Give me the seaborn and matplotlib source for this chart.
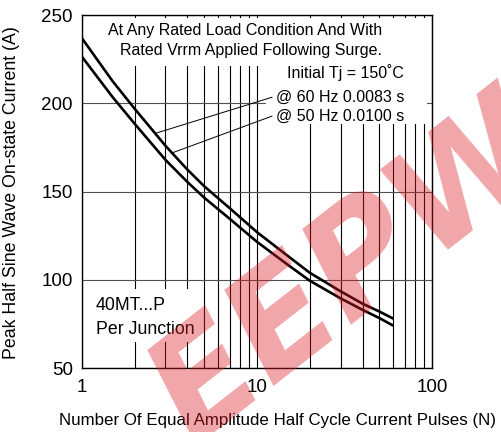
import matplotlib
matplotlib.use('Agg')
import matplotlib.pyplot as plt
from matplotlib.patches import Rectangle
from matplotlib.ticker import FixedLocator, FixedFormatter, NullFormatter
import seaborn as sns

# values
pulses = [1, 1.5, 2, 3, 4, 5, 7, 10, 15, 20, 30, 40, 50, 60]
current_60hz = [237, 212.5, 197, 176, 162.5, 153, 140.5, 127, 113.5, 104, 93.5, 86.5, 82, 78]
current_50hz = [226.5, 203.5, 188.5, 168, 155.5, 146.5, 134.5, 121.5, 108.5, 99.5, 89.5, 83, 78.3, 74]

y_ticks = [50, 100, 150, 200, 250]
x_ticks = [1, 10, 100]
x_tick_labels = ['1', '10', '100']
x_minor = [2, 3, 4, 5, 6, 7, 8, 9, 20, 30, 40, 50, 60, 70, 80, 90]

sns.set_style('white')
plt.rcParams['font.family'] = ['Liberation Sans', 'DejaVu Sans']

fig = plt.figure(figsize=(5.02, 4.32), dpi=100, facecolor='white')
ax = fig.add_axes([0.163, 0.148, 0.698, 0.817])

# curves
for vals in (current_60hz, current_50hz):
    sns.lineplot(x=pulses, y=vals, ax=ax, color='black', linewidth=1.9, zorder=4,
                 solid_joinstyle='round', solid_capstyle='butt')

ax.set_xscale('log')
ax.set_xlim(1, 100)
ax.set_ylim(50, 250)
ax.xaxis.set_major_locator(FixedLocator(x_ticks))
ax.xaxis.set_major_formatter(FixedFormatter(x_tick_labels))
ax.xaxis.set_minor_locator(FixedLocator(x_minor))
ax.xaxis.set_minor_formatter(NullFormatter())
ax.set_yticks(y_ticks)

# grid
ax.grid(True, which='both', axis='x', color='black', linewidth=0.8)
ax.grid(True, which='major', axis='y', color='#505050', linewidth=0.8)
ax.set_axisbelow(True)

ax.tick_params(axis='both', which='both', length=0, labelsize=13.5, colors='black')
ax.tick_params(axis='y', pad=6.5)
ax.tick_params(axis='x', pad=8)

for s in ax.spines.values():
    s.set_color('black')
    s.set_linewidth(1.0)
    s.set_zorder(5)

# white boxes behind the notes (they hide the grid in the datasheet)
for (x0, y0, w, h) in [(0.029, 0.856, 0.957, 0.136),
                       (0.526, 0.691, 0.460, 0.301),
                       (0.029, 0.074, 0.308, 0.150)]:
    ax.add_patch(Rectangle((x0, y0), w, h, transform=ax.transAxes,
                           facecolor='white', edgecolor='none', zorder=2))

note_kw = dict(transform=ax.transAxes, fontsize=11.5, color='black', va='center', zorder=6)
ax.text(0.857, 0.9555, 'At Any Rated Load Condition And With', ha='right', **note_kw)
ax.text(0.857, 0.901, 'Rated Vrrm Applied Following Surge.', ha='right', **note_kw)
ax.text(0.918, 0.836, 'Initial Tj = 150˚C', ha='right', **note_kw)
ax.text(0.553, 0.767, '@ 60 Hz 0.0083 s', ha='left', **note_kw)
ax.text(0.553, 0.712, '@ 50 Hz 0.0100 s', ha='left', **note_kw)

part_kw = dict(transform=ax.transAxes, fontsize=12.8, color='black', va='center', ha='left', zorder=6)
ax.text(0.040, 0.178, '40MT...P', **part_kw)
ax.text(0.040, 0.110, 'Per Junction', **part_kw)

# leader lines
ax.plot([2.67, 12.2], [183.2, 203.5], color='black', linewidth=0.7, zorder=4)
ax.plot([3.25, 12.2], [171.8, 192.8], color='black', linewidth=0.7, zorder=4)

ax.set_xlabel('Number Of Equal Amplitude Half Cycle Current Pulses (N)', fontsize=12.2, color='black')
ax.set_ylabel('Peak Half Sine Wave On-state Current (A)', fontsize=12.8, color='black')
ax.xaxis.set_label_coords(0.559, -0.128)
ax.yaxis.set_label_coords(-0.176, 0.497)

# watermark over the plot
fig.text(0.70, 0.37, 'EEPW', fontsize=104, fontweight='heavy', fontstyle='italic',
         color='#dc1e28', alpha=0.4, rotation=38, ha='center', va='center',
         family='DejaVu Sans', zorder=10)

plt.savefig('out.png', dpi=100, facecolor='white')
plt.close()
